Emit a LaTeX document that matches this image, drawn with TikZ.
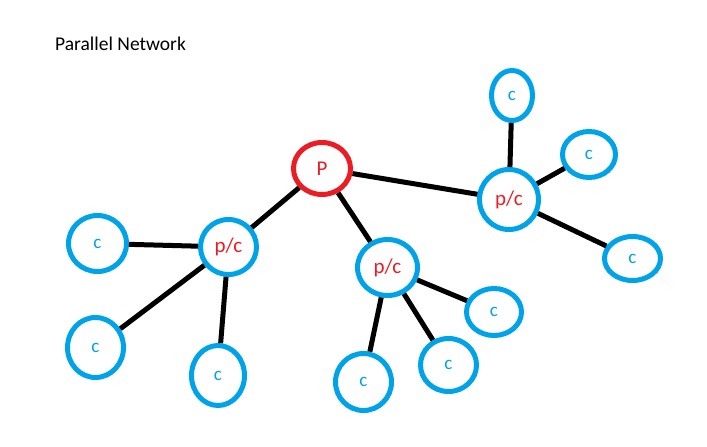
\documentclass[tikz,border=0pt]{standalone}
\usepackage{fontspec}
\setmainfont{Carlito}
\usetikzlibrary{shapes.geometric}
\definecolor{paintred}{RGB}{237,28,36}
\definecolor{paintblue}{RGB}{0,162,232}
\tikzset{
  parent/.style={ellipse,draw=paintred,line width=5pt,inner sep=0pt,text=paintred,font=\fontsize{21}{25}\selectfont},
  relay/.style={ellipse,draw=paintblue,line width=5pt,inner sep=0pt,text=paintred,font=\fontsize{21}{25}\selectfont},
  child/.style={ellipse,draw=paintblue,line width=5pt,inner sep=0pt,text=paintblue,font=\fontsize{19}{23}\selectfont},
  link/.style={line width=5pt,black}
}
\begin{document}
\begin{tikzpicture}[x=1pt,y=-1pt]
\useasboundingbox (0,0) rectangle (707,447);
\node[anchor=base west,inner sep=0pt,font=\fontsize{19.5}{23}\selectfont] (title) at (55,50) {Parallel Network};
% root
\node[parent,minimum width=57pt,minimum height=52pt] (P) at (322,168.5) {P};
% p/c nodes
\node[relay,minimum width=56pt,minimum height=55pt] (pcl) at (228.5,247) {p/c};
\node[relay,minimum width=60pt,minimum height=56pt] (pcm) at (387.5,267.5) {p/c};
\node[relay,minimum width=59pt,minimum height=60pt] (pcr) at (509,199.5) {p/c};
% c nodes
\node[child,minimum width=58pt,minimum height=56pt] (cl1) at (97.5,243.5) {c};
\node[child,minimum width=56pt,minimum height=60pt] (cl2) at (95.5,347.5) {c};
\node[child,minimum width=53pt,minimum height=60pt] (cl3) at (218,375.5) {c};
\node[child,minimum width=56pt,minimum height=57pt] (cm1) at (363.5,382) {c};
\node[child,minimum width=56pt,minimum height=53pt] (cm2) at (448.5,365) {c};
\node[child,minimum width=55pt,minimum height=47pt] (cm3) at (494,312) {c};
\node[child,minimum width=41pt,minimum height=50pt] (cr1) at (512,95.5) {c};
\node[child,minimum width=53pt,minimum height=46pt] (cr2) at (589,154.5) {c};
\node[child,minimum width=56pt,minimum height=44pt] (cr3) at (632.5,258.5) {c};
% links
\foreach \a/\b in {P/pcl,P/pcm,P/pcr,pcl/cl1,pcl/cl2,pcl/cl3,pcm/cm1,pcm/cm2,pcm/cm3,pcr/cr1,pcr/cr2,pcr/cr3}
  \draw[link] (\a) -- (\b);
\end{tikzpicture}
\end{document}
